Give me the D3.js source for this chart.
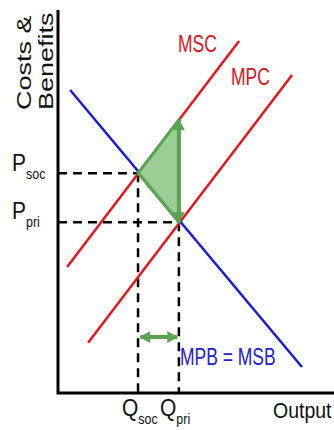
<!DOCTYPE html>
<html lang="en">
<head>
    <meta charset="UTF-8">
    <title>Negative Externality of Production</title>
    <script src="https://d3js.org/d3.v7.min.js"></script>
    <style>
        body {
            margin: 0;
            padding: 0;
            background: #fff;
        }
        text {
            font-family: 'Liberation Sans', Arial, sans-serif;
        }
    </style>
</head>
<body>
    <svg id="chart"></svg>

    <script>
        // Curve end points (x = output, y = costs & benefits, both 0-100)
        const mpbMsb = [[4.4, 79.1], [88.4, 6.8]];
        const msc = [[3.3, 32.9], [65.6, 91.9]];
        const mpc = [[10.9, 13.1], [84.8, 83.0]];

        // Equilibria
        const qSoc = 29.0, qPri = 43.8;
        const pSoc = 57.4, pPri = 44.6;
        const mscAtQpri = 71.3;     // MSC at private output
        const gapArrowY = 14.6;     // height of the output gap arrow

        const width = 334, height = 430;
        const x = d3.scaleLinear().domain([0, 100]).range([58, 334]);
        const y = d3.scaleLinear().domain([0, 100]).range([393, 10]);

        const svg = d3.select("#chart")
            .attr("width", width)
            .attr("height", height);

        const green = "#5ba352";

        // arrow heads
        const defs = svg.append("defs");
        ["start", "end"].forEach(k => {
            defs.append("marker")
                .attr("id", "arrow-" + k)
                .attr("markerUnits", "userSpaceOnUse")
                .attr("viewBox", "0 -6 11 12")
                .attr("refX", k === "end" ? 10 : 1)
                .attr("refY", 0)
                .attr("markerWidth", 11)
                .attr("markerHeight", 12)
                .attr("orient", "auto")
                .append("path")
                .attr("d", k === "end" ? "M0,-6L11,0L0,6Z" : "M11,-6L0,0L11,6Z")
                .attr("fill", green);
        });

        const line = d3.line().x(d => x(d[0])).y(d => y(d[1]));

        // dashed guides
        const dashed = [
            [[0, pSoc], [qSoc, pSoc]],
            [[qSoc, pSoc], [qSoc, 0]],
            [[0, pPri], [qPri, pPri]],
            [[qPri, pPri], [qPri, 0]]
        ];
        svg.selectAll(".guide")
            .data(dashed)
            .enter().append("path")
            .attr("class", "guide")
            .attr("d", line)
            .attr("fill", "none")
            .attr("stroke", "#000")
            .attr("stroke-width", 2.5)
            .attr("stroke-dasharray", "9,6");

        // curves
        const curves = [
            { pts: msc, color: "#e8141c" },
            { pts: mpc, color: "#e8141c" },
            { pts: mpbMsb, color: "#1a1adb" }
        ];
        svg.selectAll(".curve")
            .data(curves)
            .enter().append("path")
            .attr("class", "curve")
            .attr("d", d => line(d.pts))
            .attr("fill", "none")
            .attr("stroke", d => d.color)
            .attr("stroke-width", 2.5);

        // welfare loss triangle, on top of the curves
        svg.append("path")
            .attr("d", line([[qSoc, pSoc], [qPri, mscAtQpri], [qPri, pPri]]) + "Z")
            .attr("fill", "#8fc98a")
            .attr("fill-opacity", 0.9)
            .attr("stroke", green)
            .attr("stroke-width", 3)
            .attr("stroke-linejoin", "round");

        // vertical arrow (external cost) and horizontal arrow (over-production)
        svg.append("path")
            .attr("d", line([[qPri, mscAtQpri], [qPri, pPri]]))
            .attr("stroke", green)
            .attr("stroke-width", 4)
            .attr("marker-start", "url(#arrow-start)")
            .attr("marker-end", "url(#arrow-end)");

        svg.append("path")
            .attr("d", line([[qSoc + 0.8, gapArrowY], [qPri - 0.6, gapArrowY]]))
            .attr("stroke", green)
            .attr("stroke-width", 4)
            .attr("marker-start", "url(#arrow-start)")
            .attr("marker-end", "url(#arrow-end)");

        // axes
        svg.append("path")
            .attr("d", `M${x(0)},${y(100)}V${y(0)}H${x(100)}`)
            .attr("fill", "none")
            .attr("stroke", "#000")
            .attr("stroke-width", 3);

        // text helper, with slight vertical stretch like the source image
        function label(txt, px, py, size, color, sy, rot) {
            return svg.append("text")
                .attr("transform", `translate(${px},${py}) scale(1,${sy})` + (rot ? ` rotate(${rot})` : ""))
                .attr("font-size", size)
                .attr("fill", color)
                .text(txt);
        }

        label("Costs &", 31, 110, 20, "#111", 1.35, -90);
        label("Benefits", 53, 110, 20, "#111", 1.35, -90);

        label("MSC", 178, 52, 17.5, "#d8141c", 1.35);
        label("MPC", 231, 85, 17.5, "#d8141c", 1.35);
        label("MPB = MSB", 180, 365, 17.5, "#2020d8", 1.35);

        function subLabel(main, sub, px, py) {
            const t = svg.append("text")
                .attr("transform", `translate(${px},${py}) scale(1,1.1)`)
                .attr("fill", "#111");
            t.append("tspan").attr("font-size", 21).text(main);
            t.append("tspan").attr("font-size", 12.5).attr("dy", 7).text(sub);
        }

        subLabel("P", "soc", 12, y(pSoc) - 2);
        subLabel("P", "pri", 12, y(pPri) - 3);
        subLabel("Q", "soc", 122, 416);
        subLabel("Q", "pri", 160, 416);

        label("Output", 273, 418, 19.5, "#111", 1.1);
    </script>
</body>
</html>
